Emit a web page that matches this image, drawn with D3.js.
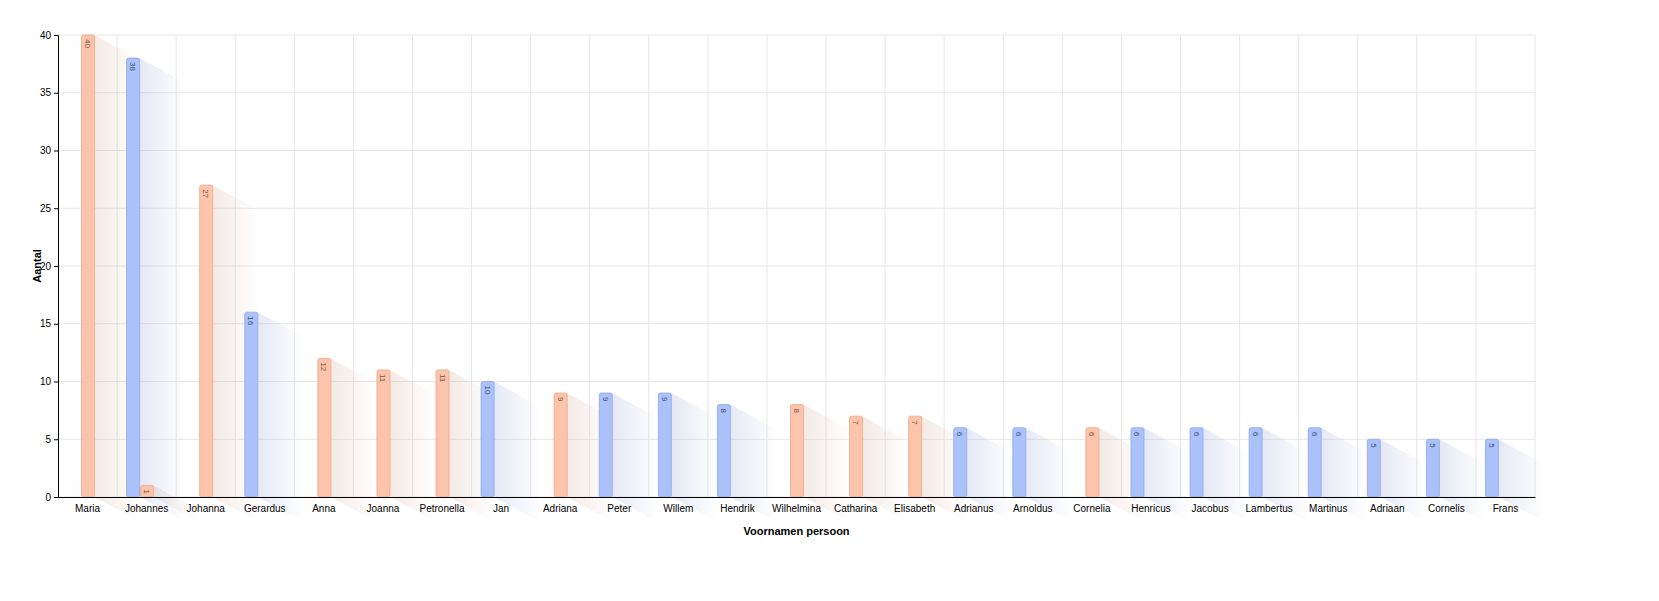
<!DOCTYPE html><html><head><meta charset="utf-8"><script src="https://cdn.jsdelivr.net/npm/d3@7"></script>
<style>body{margin:0;background:#fff;font-family:"Helvetica","Liberation Sans",Arial,sans-serif}</style></head><body><svg id="c" width="1659" height="601"></svg>
<script>
const names=["Maria","Johannes","Johanna","Gerardus","Anna","Joanna","Petronella","Jan","Adriana","Peter","Willem","Hendrik","Wilhelmina","Catharina","Elisabeth","Adrianus","Arnoldus","Cornelia","Henricus","Jacobus","Lambertus","Martinus","Adriaan","Cornelis","Frans"];
const vrouw=[40,1,27,0,12,11,11,0,9,0,0,0,8,7,7,0,0,6,0,0,0,0,0,0,0];
const man=[0,38,0,16,0,0,0,10,0,9,9,8,0,0,0,6,6,0,6,6,6,6,5,5,5];
const yTicks=[0,5,10,15,20,25,30,35,40];
const svg=d3.select("#c");
const L=58,R=1535,T=35,B=497;
const x=d3.scaleBand().domain(names).range([L,R]);
const y=d3.scaleLinear().domain([0,40]).range([B,T]);
const bw=13;
const col={vrouw:{f:"#fcc4ab",s:"#f0a586",t:"#7a5040"},man:{f:"#aac1f9",s:"#8ca6ee",t:"#38507a"}};
const defs=svg.append("defs");
for(const k of ["vrouw","man"]){
 const g=defs.append("linearGradient").attr("id","g"+k).attr("x1","0").attr("x2","1").attr("y1","0").attr("y2","0");
 g.append("stop").attr("offset","0").attr("stop-color",k==="vrouw"?"#d8b8a8":"#a8b4dc").attr("stop-opacity",0.3);
 g.append("stop").attr("offset","1").attr("stop-color",k==="vrouw"?"#d8b8a8":"#a8b4dc").attr("stop-opacity",0);
}
const grid=svg.append("g");
yTicks.forEach(t=>grid.append("line").attr("x1",L).attr("x2",R).attr("y1",y(t)).attr("y2",y(t)).attr("stroke","#e6e6e6"));
names.forEach(n=>grid.append("line").attr("x1",x(n)+x.bandwidth()).attr("x2",x(n)+x.bandwidth()).attr("y1",T).attr("y2",B).attr("stroke","#e6e6e6"));
const data=[];
names.forEach((n,i)=>{if(vrouw[i])data.push({n,k:"vrouw",v:vrouw[i]});if(man[i])data.push({n,k:"man",v:man[i]});});
const bx=d=>{const c=x(d.n)+x.bandwidth()/2; return d.k==="vrouw"? c-6 : c-20;};
const dx=46,dy=25;
svg.append("g").selectAll("path").data(data).join("path")
 .attr("d",d=>{const xr=bx(d)+bw,yt=y(d.v);return `M${xr},${yt}L${xr+dx},${yt+dy}L${xr+dx},${B+dy}L${xr},${B}Z`;})
 .attr("fill",d=>`url(#g${d.k})`);
svg.append("g").selectAll("rect").data(data).join("rect")
 .attr("x",d=>bx(d)).attr("y",d=>y(d.v)).attr("width",bw).attr("height",d=>B-y(d.v)).attr("rx",2)
 .attr("fill",d=>col[d.k].f).attr("stroke",d=>col[d.k].s).attr("stroke-width",0.8);
svg.append("g").selectAll("text").data(data).join("text")
 .attr("transform",d=>`translate(${bx(d)+bw/2-3},${y(d.v)+4}) rotate(90)`)
 .attr("font-size",8).attr("fill",d=>col[d.k].t).text(d=>d.v);
const ya=svg.append("g").attr("transform",`translate(${L},0)`).call(d3.axisLeft(y).tickValues(yTicks).tickSize(4));
ya.selectAll("text").attr("font-size",10).attr("fill","#000");
const xa=svg.append("g").attr("transform",`translate(0,${B})`).call(d3.axisBottom(x).tickSize(0).tickPadding(8));
xa.selectAll("text").attr("font-size",10).attr("fill","#000");
xa.select(".domain").attr("stroke","#000");
svg.append("text").attr("x",(L+R)/2).attr("y",535).attr("text-anchor","middle").attr("font-weight","bold").attr("font-size",11).text("Voornamen persoon");
svg.append("text").attr("transform",`translate(41,${(T+B)/2}) rotate(-90)`).attr("text-anchor","middle").attr("font-weight","bold").attr("font-size",11).text("Aantal");
</script></body></html>
